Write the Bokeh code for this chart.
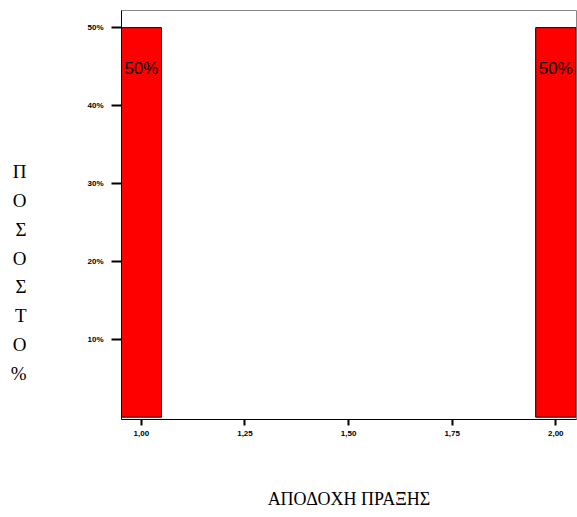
from bokeh.plotting import figure
from bokeh.models import FixedTicker, Range1d
from bokeh.core.properties import value
from bokeh.embed import file_html
from bokeh.resources import INLINE

# data
values_x = [1.0, 2.0]
percents = [50, 50]
bar_labels = ["50%", "50%"]
y_ticks = [10, 20, 30, 40, 50]
y_tick_labels = ["10%", "20%", "30%", "40%", "50%"]
x_ticks = [1.0, 1.25, 1.5, 1.75, 2.0]
x_tick_labels = ["1,00", "1,25", "1,50", "1,75", "2,00"]
x_title = "ΑΠΟΔΟΧΗ ΠΡΑΞΗΣ"
y_title = "\u00a0\n\u00a0\n\u00a0\n\u00a0\nΠ\nΟ\nΣ\nΟ\nΣ\nΤ\nΟ\n%"

p = figure(width=577, height=517, output_backend="svg", toolbar_location=None,
           x_range=Range1d(0.952, 2.05), y_range=Range1d(-0.3, 52.2),
           min_border_left=121, min_border_right=1, min_border_top=10, min_border_bottom=98)
p.background_fill_color = "white"
p.border_fill_color = "white"
p.outline_line_color = "#888888"
p.grid.visible = False

p.vbar(x=values_x, top=percents, bottom=0, width=0.097, fill_color="#ff0000",
       line_color="black", line_width=1)
p.text(x=values_x, y=[44.8, 44.8], text=bar_labels, text_align="center", text_baseline="middle",
       text_font=value("Liberation Sans"), text_font_size="17px", text_color="black")

p.yaxis.ticker = FixedTicker(ticks=y_ticks)
p.yaxis.major_label_overrides = {t: l for t, l in zip(y_ticks, y_tick_labels)}
p.xaxis.ticker = FixedTicker(ticks=x_ticks)
p.xaxis.major_label_overrides = {t: l for t, l in zip(x_ticks, x_tick_labels)}

for ax in (p.xaxis, p.yaxis):
    ax.minor_tick_line_color = None
    ax.major_tick_in = 0
    ax.axis_line_color = "black"
    ax.major_tick_line_color = "black"
    ax.major_tick_line_width = 2
    ax.major_label_text_font = "Liberation Sans"
    ax.major_label_text_font_style = "bold"
    ax.major_label_text_font_size = "8px"
    ax.major_label_text_color = "black"
    ax.axis_label_text_font = "Liberation Serif"
    ax.axis_label_text_font_style = "normal"
    ax.axis_label_text_color = "black"

p.yaxis.major_tick_out = 10
p.yaxis.major_label_standoff = 8
p.xaxis.major_tick_out = 6
p.xaxis.major_label_standoff = 5

p.xaxis.axis_label = x_title
p.xaxis.axis_label_text_font_size = "18px"
p.xaxis.axis_label_standoff = 50

p.yaxis.axis_label = y_title
p.yaxis.axis_label_orientation = "horizontal"
p.yaxis.axis_label_text_font_size = "19px"
p.yaxis.axis_label_text_line_height = 1.37
p.yaxis.axis_label_standoff = 58

open("out.html", "w").write(file_html(p, INLINE))
